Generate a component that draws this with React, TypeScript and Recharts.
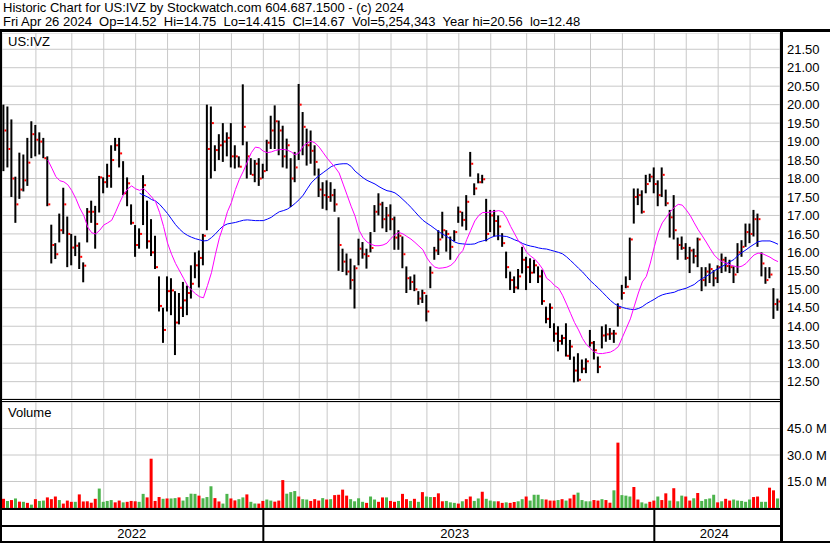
import { Bar, CartesianGrid, Cell, ComposedChart, Line, XAxis, YAxis } from "recharts";

// price bars, read left to right (~2.6 sessions per bar)
const hi = [
  20.0, 19.95, 19.6, 18.05, 18.7, 18.65, 19.1, 19.55, 19.45, 19.25,
  19.1, 18.6, 16.75, 16.25, 17.05, 17.75, 16.97, 16.5, 16.45, 16.27,
  15.73, 17.2, 17.4, 17.26, 18.07, 18.03, 18.4, 18.9, 19.1, 19.1,
  18.47, 18.03, 17.3, 16.74, 16.65, 18.09, 17.4, 16.9, 16.45, 15.35,
  14.5, 15.35, 15.3, 14.95, 14.9, 15.2, 15.1, 15.65, 16.0, 16.05,
  16.5, 20.0, 19.95, 18.9, 19.2, 19.5, 19.25, 19.5, 18.9, 18.6,
  20.55, 19.0, 18.55, 18.5, 18.55, 18.4, 19.05, 19.7, 19.98, 19.57,
  19.43, 19.08, 18.55, 18.72, 20.56, 19.8, 19.35, 19.3, 18.9, 18.27,
  17.9, 17.95, 17.9, 17.72, 16.95, 16.1, 15.97, 15.83, 15.65, 16.37,
  16.28, 16.1, 16.55, 17.28, 17.6, 17.37, 17.23, 17.3, 16.97, 16.6,
  16.43, 15.62, 15.35, 15.4, 14.95, 14.99, 14.85, 15.62, 16.15, 16.6,
  17.1, 16.6, 16.43, 16.6, 17.24, 17.1, 17.55, 18.72, 17.87, 18.14,
  18.1, 17.45, 17.15, 17.15, 17.0, 16.52, 16.02, 15.48, 15.35, 15.55,
  16.15, 15.88, 15.84, 15.8, 15.62, 15.53, 14.53, 14.62, 14.08, 14.0,
  13.77, 14.08, 13.63, 13.18, 13.27, 13.1, 13.13, 13.9, 13.6, 13.18,
  14.0, 14.05, 13.95, 13.9, 14.62, 15.12, 15.35, 16.4, 17.73, 17.73,
  17.68, 18.1, 18.13, 18.3, 17.95, 18.3, 17.7, 17.15, 17.55, 16.4,
  16.43, 16.25, 16.15, 16.1, 16.4, 15.6, 15.6, 15.7, 15.52, 15.65,
  15.97, 15.88, 15.8, 15.62, 16.25, 16.33, 16.78, 16.78, 17.15, 17.05,
  16.0, 15.6, 15.6, 15.03, 14.75,
];
const lo = [
  18.2, 18.3, 17.5, 16.8, 17.45, 17.65, 17.8, 18.55, 18.6, 18.65,
  18.55, 17.25, 15.7, 15.82, 16.27, 16.5, 15.6, 15.65, 15.9, 15.55,
  15.19, 16.27, 16.8, 16.1, 17.08, 17.6, 17.75, 17.75, 18.75, 18.3,
  17.55, 17.25, 16.75, 15.88, 16.1, 16.74, 16.1, 15.9, 15.55, 14.4,
  13.55, 14.4, 14.3, 13.22, 14.05, 14.25, 14.3, 14.75, 15.3, 15.05,
  15.65, 16.6, 18.0, 18.2, 18.5, 18.45, 18.6, 18.3, 18.27, 18.3,
  18.9, 18.0, 18.1, 17.9, 17.8, 18.0, 18.2, 18.8, 18.8, 18.63,
  18.3, 18.27, 17.23, 17.9, 18.5, 18.63, 18.35, 18.4, 18.08, 17.5,
  17.18, 17.14, 17.37, 17.1, 15.5, 15.47, 15.38, 15.0, 14.48, 15.65,
  15.83, 15.56, 16.0, 16.55, 17.0, 16.65, 16.55, 16.6, 16.07, 16.07,
  15.57, 14.9, 14.98, 14.95, 14.58, 14.63, 14.13, 15.03, 15.8, 15.93,
  16.38, 16.02, 15.8, 16.3, 16.8, 16.7, 16.6, 18.05, 17.55, 17.87,
  17.87, 16.3, 16.55, 16.43, 16.33, 16.15, 15.3, 14.98, 14.9, 15.0,
  15.43, 14.98, 15.17, 15.43, 15.17, 14.58, 14.08, 13.95, 13.58, 13.32,
  13.5, 13.18, 13.09, 12.48, 12.5, 12.73, 12.73, 13.45, 13.1, 12.73,
  13.4, 13.58, 13.63, 13.55, 13.99, 14.72, 15.03, 15.25, 16.78, 17.28,
  17.05, 17.6, 17.9, 17.6, 17.25, 17.5, 17.25, 16.4, 16.35, 15.8,
  16.07, 15.8, 15.44, 15.7, 15.6, 14.95, 15.08, 15.17, 15.08, 15.17,
  15.44, 15.48, 15.44, 15.17, 15.44, 15.88, 16.15, 16.25, 16.43, 16.15,
  15.35, 15.15, 15.3, 14.2, 14.42,
];
const cl = [
  19.3, 18.8, 18.0, 17.3, 17.7, 17.95, 18.43, 19.2, 19.05, 19.0,
  18.55, 17.3, 16.2, 15.95, 16.6, 17.3, 16.5, 16.13, 16.18, 15.88,
  15.64, 17.1, 17.1, 16.77, 18.03, 17.9, 18.07, 18.5, 18.9, 18.68,
  17.6, 17.87, 16.8, 16.2, 16.5, 17.82, 16.3, 16.0, 15.6, 14.55,
  13.9, 14.95, 14.97, 14.1, 14.5, 14.7, 14.9, 15.15, 15.65, 15.85,
  16.45, 18.8, 19.5, 18.77, 18.9, 19.0, 19.1, 18.6, 18.6, 18.32,
  19.4, 18.6, 18.1, 18.4, 18.0, 18.2, 18.97, 19.3, 19.55, 19.3,
  18.6, 18.9, 18.0, 18.3, 20.0, 19.4, 18.9, 18.75, 18.45, 17.7,
  17.55, 17.5, 17.55, 17.3, 16.2, 15.75, 15.48, 15.25, 15.57, 16.1,
  15.95, 15.9, 16.12, 17.1, 17.3, 16.9, 17.0, 16.9, 16.4, 16.45,
  15.95, 15.3, 15.2, 15.0, 14.75, 14.9, 14.4, 15.45, 16.05, 16.35,
  16.6, 16.5, 16.15, 16.55, 17.1, 16.88, 17.37, 18.4, 17.73, 17.9,
  17.98, 16.5, 17.0, 16.85, 16.7, 16.25, 15.6, 15.25, 15.05, 15.35,
  15.8, 15.6, 15.45, 15.65, 15.35, 14.68, 14.2, 14.5, 13.8, 13.6,
  13.68, 13.2, 13.45, 12.8, 12.55, 12.85, 13.05, 13.55, 13.35, 12.9,
  13.75, 13.78, 13.8, 13.8, 14.5, 14.9, 15.07, 16.35, 17.5, 17.55,
  17.1, 17.85, 18.05, 17.85, 17.55, 18.1, 17.33, 16.95, 16.6, 16.2,
  16.12, 15.85, 16.05, 15.9, 16.35, 15.25, 15.48, 15.55, 15.3, 15.6,
  15.8, 15.63, 15.6, 15.4, 16.0, 16.15, 16.55, 16.5, 16.9, 16.9,
  15.7, 15.25, 15.4, 14.6, 14.67,
];

// volume in millions, U = up day (green), D = down day (red)
const vol = [
  5.2, 4.0, 4.5, 5.4, 3.6, 3.5, 2.9, 1.9, 5.0, 4.0,
  4.2, 6.0, 5.0, 6.5, 4.5, 2.5, 4.2, 3.5, 3.5, 7.7,
  3.7, 3.8, 3.0, 5.2, 11.0, 3.5, 4.0, 4.5, 3.2, 4.2,
  3.2, 3.5, 4.0, 3.8, 3.5, 8.0, 6.0, 27.9, 4.0, 6.2,
  5.2, 5.4, 5.4, 5.6, 6.0, 4.2, 6.2, 8.1, 8.0, 7.0,
  5.5, 6.2, 12.3, 5.6, 3.7, 2.5, 8.0, 5.4, 4.3, 5.0,
  6.0, 7.7, 3.5, 2.5, 2.5, 4.0, 4.8, 4.2, 3.6, 4.2,
  15.8, 8.1, 9.0, 9.6, 6.5, 5.0, 4.8, 4.0, 5.0, 4.2,
  5.6, 4.8, 5.0, 7.3, 7.5, 10.4, 7.0, 5.0, 3.8, 5.5,
  3.5, 2.9, 6.5, 4.8, 3.5, 6.0, 6.0, 4.0, 3.5, 4.0,
  8.0, 5.0, 4.0, 5.2, 3.5, 9.0, 6.5, 6.2, 6.2, 8.3,
  3.8, 4.0, 3.2, 2.9, 2.5, 3.8, 5.0, 6.5, 4.0, 5.4,
  9.2, 5.2, 4.2, 3.8, 3.8, 2.9, 3.2, 2.9, 3.4, 3.8,
  5.0, 6.5, 4.2, 7.5, 7.5, 5.0, 4.8, 4.2, 4.2, 4.5,
  5.0, 4.2, 5.4, 7.5, 8.7, 4.5, 3.8, 3.8, 4.5, 4.2,
  5.0, 4.5, 3.0, 10.0, 37.0, 7.3, 7.0, 6.5, 11.9, 4.8,
  3.2, 2.5, 3.5, 4.2, 6.5, 4.5, 8.3, 4.2, 11.2, 3.8,
  7.0, 6.5, 4.2, 5.5, 8.5, 4.0, 5.0, 5.4, 7.5, 3.2,
  3.8, 5.2, 4.2, 4.8, 4.2, 4.0, 3.5, 4.8, 6.2, 6.5,
  3.5, 3.5, 11.5, 10.0, 5.4,
];
const volDir = [
  "DUDUDUDUDU", "UDDDUDDDUD", "DDDDUUUUDD", "UDDDUUDDDD", "UDUUDUUUUD",
  "UUUDDUUDDU", "UDUUDDUUDD", "DUUUDUUDDD", "UDUDDDDUUU", "UDUUDDUDDU",
  "DDUDUDUUDD", "DUUUDUDDUU", "DUUUDDUDDU", "UDUUUUDDDU", "DUDDUUUUDD",
  "UDDUDUUUDD", "UUDDUDDUDU", "UDDUDUUUUD", "UDDUUUUUDD", "UUDDU",
].join("");

// moving averages as drawn on the chart (magenta starts at bar 11, blue at bar 34)
const maFastFrom = 11;
const maFast = [
  18.5, 18.28, 18.05, 17.94, 17.91, 17.83, 17.67, 17.46, 17.2, 17.0,
  16.68, 16.53, 16.5, 16.6, 16.74, 16.8, 16.87, 17.1, 17.35, 17.57,
  17.72, 17.8, 17.72, 17.68, 17.73, 17.62, 17.5, 17.37, 17.08, 16.7,
  16.25, 15.95, 15.7, 15.5, 15.3, 15.1, 14.98, 14.88, 14.8, 14.77,
  15.1, 15.45, 15.95, 16.4, 16.72, 17.1, 17.35, 17.7, 17.98, 18.2,
  18.45, 18.7, 18.85, 18.83, 18.74, 18.7, 18.72, 18.76, 18.78, 18.79,
  18.77, 18.72, 18.64, 18.7, 18.88, 18.96, 19.01, 18.96, 18.85, 18.7,
  18.55, 18.42, 18.3, 18.15, 17.85, 17.55, 17.25, 16.98, 16.6, 16.4,
  16.28, 16.22, 16.18, 16.18, 16.2, 16.25, 16.38, 16.48, 16.54, 16.5,
  16.43, 16.36, 16.27, 16.17, 16.07, 15.85, 15.7, 15.6, 15.57, 15.58,
  15.6, 15.65, 15.75, 15.93, 16.05, 16.35, 16.6, 16.85, 17.0, 17.08,
  17.08, 17.09, 17.11, 17.13, 17.1, 16.93, 16.7, 16.5, 16.3, 16.2,
  16.0, 15.9, 15.82, 15.7, 15.55, 15.3, 15.22, 15.1, 15.03, 14.84,
  14.6, 14.35, 14.1, 13.9, 13.67, 13.5, 13.4, 13.3, 13.26, 13.26,
  13.28, 13.3, 13.36, 13.45, 13.7, 13.95, 14.2, 14.55, 14.9, 15.2,
  15.35, 15.71, 16.15, 16.55, 16.8, 16.95, 17.1, 17.22, 17.3, 17.28,
  17.15, 17.0, 16.8, 16.61, 16.45, 16.28, 16.1, 15.93, 15.82, 15.75,
  15.71, 15.66, 15.63, 15.6, 15.63, 15.7, 15.82, 15.93, 15.98, 15.97,
  15.92, 15.87, 15.8, 15.75,
];
const maSlowFrom = 34;
const maSlow = [
  17.6, 17.55, 17.5, 17.43, 17.39, 17.3, 17.18, 17.05, 16.9, 16.75,
  16.63, 16.53, 16.46, 16.41, 16.37, 16.34, 16.31, 16.32, 16.4, 16.5,
  16.62, 16.72, 16.77, 16.79, 16.81, 16.84, 16.87, 16.88, 16.87, 16.86,
  16.86, 16.86, 16.9, 16.95, 17.03, 17.1, 17.13, 17.17, 17.24, 17.33,
  17.43, 17.55, 17.72, 17.88, 17.99, 18.08, 18.16, 18.24, 18.32, 18.37,
  18.39, 18.4, 18.4, 18.33, 18.2, 18.11, 18.02, 17.95, 17.9, 17.85,
  17.78, 17.72, 17.67, 17.65, 17.61, 17.53, 17.43, 17.33, 17.22, 17.1,
  16.98, 16.87, 16.79, 16.72, 16.64, 16.56, 16.49, 16.43, 16.35, 16.28,
  16.24, 16.23, 16.22, 16.22, 16.23, 16.28, 16.31, 16.34, 16.4, 16.44,
  16.45, 16.44, 16.43, 16.39, 16.34, 16.3, 16.24, 16.2, 16.17, 16.15,
  16.12, 16.1, 16.09, 16.06, 16.03, 16.0, 15.96, 15.88, 15.78, 15.68,
  15.57, 15.47, 15.35, 15.23, 15.13, 15.03, 14.92, 14.81, 14.7, 14.61,
  14.55, 14.51, 14.48, 14.46, 14.45, 14.48, 14.53, 14.61, 14.67, 14.73,
  14.8, 14.85, 14.88, 14.9, 14.92, 14.97, 15.0, 15.03, 15.08, 15.13,
  15.22, 15.29, 15.35, 15.42, 15.5, 15.56, 15.62, 15.68, 15.75, 15.81,
  15.92, 16.0, 16.07, 16.15, 16.22, 16.29, 16.31, 16.31, 16.31, 16.27,
  16.22,
];

// first bar of each month, and the year labels / year breaks
const monthStarts = [8, 17, 25, 33, 41, 49, 57, 65, 74, 81, 89, 97, 106, 114, 122, 131, 138, 147, 155, 163, 171, 179, 187];
const years = ["2022", "2023", "2024"];
const yearMid = [32, 113, 178];
const yearStart = [65, 163];

const priceTicks = [12.5, 13, 13.5, 14, 14.5, 15, 15.5, 16, 16.5, 17, 17.5, 18, 18.5, 19, 19.5, 20, 20.5, 21, 21.5];
const volTicks = [15, 30, 45];

const rows = hi.map((h, i) => ({
  i,
  range: [lo[i], h],
  hi: h,
  lo: lo[i],
  cl: cl[i],
  vol: vol[i],
  up: volDir[i] === "U",
  maFast: i >= maFastFrom ? maFast[i - maFastFrom] : null,
  maSlow: i >= maSlowFrom ? maSlow[i - maSlowFrom] : null,
}));

const FONT = "'Liberation Sans', Arial, sans-serif";
const GRID = "#c8c8c8";

const HiLoBar = (props: any) => {
  const { x, y, width, height, payload } = props;
  if (x == null || y == null) return null;
  const cx = x + width / 2;
  const span = payload.hi - payload.lo;
  const cy = span > 0 ? y + (height * (payload.hi - payload.cl)) / span : y;
  return (
    <g>
      <rect x={cx - 1.5} y={y} width={2} height={Math.max(height, 1)} fill="#000" />
      <rect x={cx + 0.5} y={cy - 1} width={2} height={2} fill="#ff0000" />
    </g>
  );
};

const YearTick = (props: any) => {
  const { x, y, payload } = props;
  if (yearStart.includes(payload.value)) {
    return <line x1={x} x2={x} y1={y} y2={y + 33} stroke="#000" strokeWidth={2} />;
  }
  const k = yearMid.indexOf(payload.value);
  return (
    <text x={x} y={y + 29} textAnchor="middle" fontSize={13} fontFamily={FONT} fill="#000">
      {years[k]}
    </text>
  );
};

const line = (left: number, top: number, width: number, height: number) => (
  <div style={{ position: "absolute", left, top, width, height, background: "#000" }} />
);

export default function App() {
  const tick = { fontSize: 13, fontFamily: FONT, fill: "#000" };
  return (
    <div
      style={{
        position: "absolute",
        left: 0,
        top: 0,
        width: 830,
        height: 543,
        background: "#fff",
        fontFamily: FONT,
        overflow: "hidden",
      }}
    >
      <div style={{ position: "absolute", left: 3, top: 0, fontSize: 13, lineHeight: "15px", whiteSpace: "pre" }}>
        Historic Chart for US:IVZ by Stockwatch.com 604.687.1500 - (c) 2024
      </div>
      <div style={{ position: "absolute", left: 3, top: 14, fontSize: 13, lineHeight: "15px", whiteSpace: "pre" }}>
        {"Fri Apr 26 2024  Op=14.52  Hi=14.75  Lo=14.415  Cl=14.67  Vol=5,254,343  Year hi=20.56  lo=12.48"}
      </div>

      <div style={{ position: "absolute", left: 0, top: 33 }}>
        <ComposedChart width={830} height={366} data={rows} margin={{ top: 0, right: 0, bottom: 0, left: 2 }}>
          <CartesianGrid stroke={GRID} />
          <XAxis dataKey="i" hide ticks={monthStarts} interval={0} />
          <YAxis
            orientation="right"
            width={50}
            domain={[12.03, 21.94]}
            ticks={priceTicks}
            interval={0}
            tickFormatter={(v: number) => v.toFixed(2)}
            axisLine={false}
            tickLine={false}
            tickSize={0}
            tickMargin={7}
            tick={tick}
            allowDataOverflow
          />
          <Bar dataKey="range" shape={<HiLoBar />} isAnimationActive={false} />
          <Line dataKey="maSlow" stroke="#0000ff" strokeWidth={1} dot={false} isAnimationActive={false} />
          <Line dataKey="maFast" stroke="#ff00ff" strokeWidth={1} dot={false} isAnimationActive={false} />
        </ComposedChart>
      </div>

      <div style={{ position: "absolute", left: 0, top: 402 }}>
        <ComposedChart width={830} height={106} data={rows} margin={{ top: 0, right: 0, bottom: 0, left: 2 }}>
          <CartesianGrid stroke={GRID} />
          <XAxis dataKey="i" hide ticks={monthStarts} interval={0} />
          <YAxis
            orientation="right"
            width={50}
            domain={[0, 60]}
            ticks={volTicks}
            interval={0}
            tickFormatter={(v: number) => `${v.toFixed(1)} M`}
            axisLine={false}
            tickLine={false}
            tickSize={0}
            tickMargin={7}
            tick={tick}
            allowDataOverflow
          />
          <Bar dataKey="vol" barSize={3} isAnimationActive={false}>
            {rows.map((r) => (
              <Cell key={r.i} fill={r.up ? "#4cb44c" : "#ff0000"} />
            ))}
          </Bar>
        </ComposedChart>
      </div>

      <div style={{ position: "absolute", left: 0, top: 508 }}>
        <ComposedChart width={830} height={36} data={rows} margin={{ top: 0, right: 50, bottom: 0, left: 2 }}>
          <XAxis
            dataKey="i"
            height={35}
            ticks={[...yearMid, ...yearStart].sort((a, b) => a - b)}
            interval={0}
            axisLine={false}
            tickLine={false}
            tickSize={0}
            tickMargin={0}
            tick={<YearTick />}
          />
          <YAxis hide domain={[0, 60]} />
          <Bar dataKey="vol" fill="none" isAnimationActive={false} />
        </ComposedChart>
      </div>

      <div style={{ position: "absolute", left: 8, top: 34, fontSize: 13, lineHeight: "15px" }}>US:IVZ</div>
      <div style={{ position: "absolute", left: 8, top: 405, fontSize: 13, lineHeight: "15px" }}>Volume</div>

      {line(0, 29, 830, 3)}
      {line(0, 29, 2, 514)}
      {line(780, 32, 3, 511)}
      {line(0, 399, 782, 1)}
      {line(0, 401, 782, 1)}
      {line(0, 508, 782, 2)}
      {line(0, 525, 782, 2)}
      {line(0, 541, 830, 2)}
    </div>
  );
}
